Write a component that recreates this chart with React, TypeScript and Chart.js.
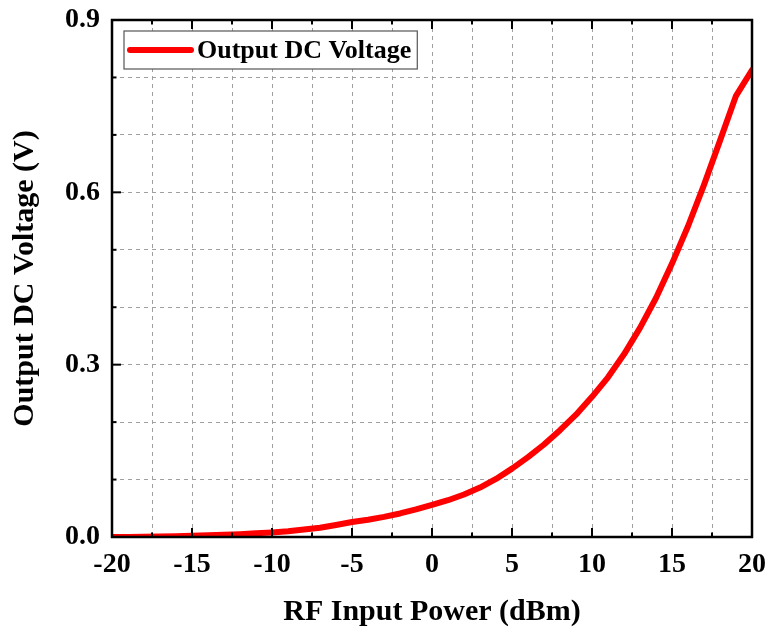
import React, { useEffect, useRef } from "react";
import { Chart, registerables } from "chart.js";

Chart.register(...registerables);

// RF input power sweep (dBm) and the rectified DC output (V)
const inputPowerDbm = [
  -20, -19, -18, -17, -16, -15, -14, -13, -12, -11, -10, -9, -8, -7, -6, -5, -4, -3, -2, -1,
  0, 1, 2, 3, 4, 5, 6, 7, 8, 9, 10, 11, 12, 13, 14, 15, 16, 17, 18, 19, 20,
];
const outputVoltage = [
  0.0, 0.0, 0.0005, 0.001, 0.0015, 0.002, 0.003, 0.004, 0.005, 0.0065, 0.008, 0.01, 0.013, 0.016,
  0.021, 0.026, 0.03, 0.035, 0.041, 0.048, 0.056, 0.064, 0.074, 0.086, 0.101, 0.119, 0.139,
  0.161, 0.186, 0.213, 0.244, 0.278, 0.318, 0.364, 0.416, 0.476, 0.541, 0.613, 0.69, 0.768, 0.813,
];
const seriesLabel = "Output DC Voltage";
const xAxisTitle = "RF Input Power (dBm)";
const yAxisTitle = "Output DC Voltage (V)";
const xRange = [-20, 20];
const yRange = [0, 0.9];
const xGridStep = 2.5;
const xLabelStep = 5;
const yGridStep = 0.1;
const yLabelStep = 0.3;

const FONT = "'Liberation Serif', 'Times New Roman', serif";
const RED = "#ff0000";

// Frame, inward-pointing ticks and the boxed legend inside the plot area
const framePlugin = {
  id: "frameTicksLegend",
  afterDatasetsDraw(chart: any) {
    const { ctx, chartArea } = chart;
    const { left, right, top, bottom } = chartArea;
    const xs = chart.scales.x;
    const ys = chart.scales.y;
    ctx.save();
    ctx.strokeStyle = "#000";
    ctx.lineWidth = 2;
    ctx.lineCap = "butt";
    // x ticks on bottom and top edges
    xs.ticks.forEach((t: any) => {
      const px = xs.getPixelForValue(t.value);
      const major = Math.abs(t.value / xLabelStep - Math.round(t.value / xLabelStep)) < 1e-6;
      const len = major ? 9 : 4.5;
      ctx.beginPath();
      ctx.moveTo(px, bottom);
      ctx.lineTo(px, bottom - len);
      ctx.moveTo(px, top);
      ctx.lineTo(px, top + len);
      ctx.stroke();
    });
    // y ticks on the left edge
    ys.ticks.forEach((t: any) => {
      const py = ys.getPixelForValue(t.value);
      const major = Math.round(t.value * 10) % Math.round(yLabelStep * 10) === 0;
      const len = major ? 9 : 4.5;
      ctx.beginPath();
      ctx.moveTo(left, py);
      ctx.lineTo(left + len, py);
      ctx.stroke();
    });
    // outer frame
    ctx.lineWidth = 2.5;
    ctx.strokeRect(left, top, right - left, bottom - top);

    // legend
    const ds = chart.data.datasets[0];
    const bx = left + 12;
    const by = top + 11;
    ctx.font = `bold 26px ${FONT}`;
    const tw = ctx.measureText(ds.label).width;
    const bw = 73 + tw + 6;
    const bh = 38;
    ctx.fillStyle = "#fff";
    ctx.fillRect(bx, by, bw, bh);
    ctx.lineWidth = 1.2;
    ctx.strokeStyle = "#555";
    ctx.strokeRect(bx, by, bw, bh);
    ctx.strokeStyle = ds.borderColor;
    ctx.lineWidth = 6;
    ctx.lineCap = "round";
    ctx.beginPath();
    ctx.moveTo(bx + 6, by + bh / 2);
    ctx.lineTo(bx + 67, by + bh / 2);
    ctx.stroke();
    ctx.fillStyle = "#000";
    ctx.textBaseline = "middle";
    ctx.textAlign = "left";
    ctx.fillText(ds.label, bx + 73, by + bh / 2 + 1);
    ctx.restore();
  },
};

export default function App() {
  const canvasRef = useRef<HTMLCanvasElement | null>(null);

  useEffect(() => {
    const canvas = canvasRef.current;
    if (!canvas) return;
    const points = inputPowerDbm.map((x, i) => ({ x, y: outputVoltage[i] }));
    const grid = {
      color: "#a0a0a0",
      lineWidth: 1,
      drawTicks: false,
    };
    const chart = new Chart(canvas, {
      type: "line",
      data: {
        datasets: [
          {
            label: seriesLabel,
            data: points,
            borderColor: RED,
            backgroundColor: RED,
            borderWidth: 6,
            pointRadius: 0,
            tension: 0,
            borderJoinStyle: "round",
            borderCapStyle: "round",
          },
        ],
      },
      options: {
        responsive: false,
        animation: false,
        layout: { padding: { left: 0, right: 17, top: 20, bottom: 0 } },
        plugins: {
          legend: { display: false },
          tooltip: { enabled: false },
        },
        scales: {
          x: {
            type: "linear",
            min: xRange[0],
            max: xRange[1],
            grid: { ...grid },
            border: { display: false, dash: [4, 4] },
            ticks: {
              stepSize: xGridStep,
              autoSkip: false,
              maxRotation: 0,
              padding: 11,
              color: "#000",
              font: { family: FONT, size: 28, weight: "bold" },
              callback: (v: any) => {
                const n = Number(v);
                return Math.abs(n / xLabelStep - Math.round(n / xLabelStep)) < 1e-6 ? String(n) : "";
              },
            },
            title: {
              display: true,
              text: xAxisTitle,
              color: "#000",
              font: { family: FONT, size: 30, weight: "bold" },
              padding: { top: 0, bottom: 1 },
            },
            afterFit: (scale: any) => {
              scale.height = 94;
              scale.paddingLeft = 0;
              scale.paddingRight = 0;
            },
          },
          y: {
            type: "linear",
            min: yRange[0],
            max: yRange[1],
            grid: { ...grid },
            border: { display: false, dash: [4, 4] },
            ticks: {
              stepSize: yGridStep,
              autoSkip: false,
              padding: 12,
              color: "#000",
              font: { family: FONT, size: 28, weight: "bold" },
              callback: (v: any) => {
                const n = Number(v);
                return Math.round(n * 10) % Math.round(yLabelStep * 10) === 0 ? n.toFixed(1) : "";
              },
            },
            title: {
              display: true,
              text: yAxisTitle,
              color: "#000",
              font: { family: FONT, size: 30, weight: "bold" },
              padding: { top: 7, bottom: 0 },
            },
            afterFit: (scale: any) => {
              scale.width = 112;
              scale.paddingTop = 0;
              scale.paddingBottom = 0;
            },
          },
        },
      },
      plugins: [framePlugin],
    });
    return () => chart.destroy();
  }, []);

  return (
    <div style={{ position: "absolute", left: 0, top: 0, width: 769, height: 631, background: "#fff" }}>
      <canvas ref={canvasRef} width={769} height={631} />
    </div>
  );
}
